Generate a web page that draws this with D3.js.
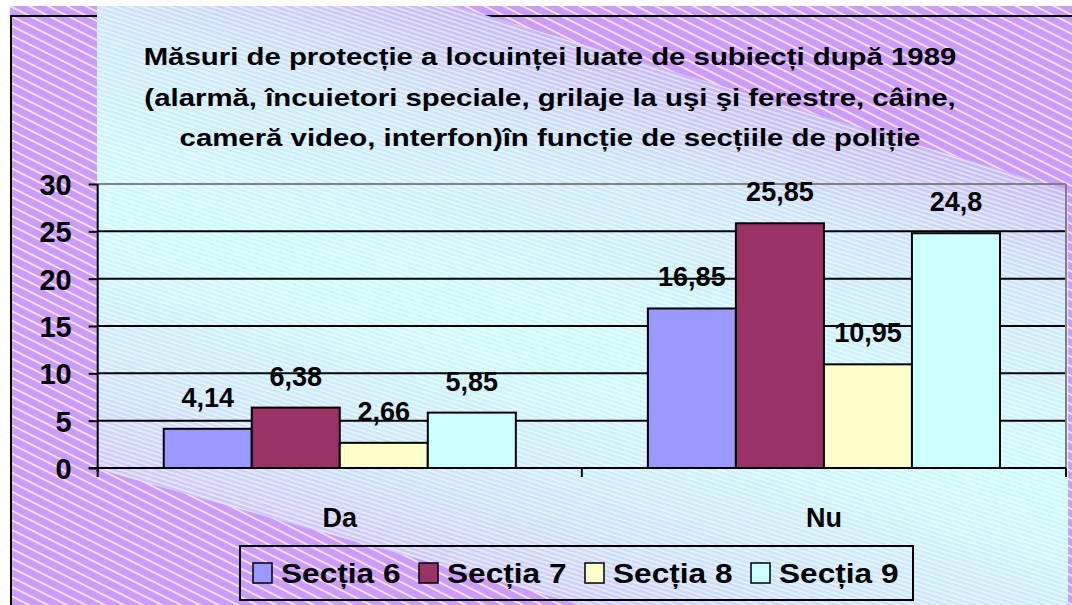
<!DOCTYPE html>
<html>
<head>
<meta charset="utf-8">
<script src="https://cdn.jsdelivr.net/npm/d3@7"></script>
<style>
  html, body { margin: 0; padding: 0; background: #ffffff; }
  svg { display: block; }
  text { font-family: "Liberation Sans", Arial, sans-serif; font-weight: bold; fill: #000; }
</style>
</head>
<body>
<svg id="chart" width="1072" height="605"></svg>
<script>
// ---- Data ----
const categories = ["Da", "Nu"];
const seriesNames = ["Secția 6", "Secția 7", "Secția 8", "Secția 9"];
const seriesColors = ["#9999ff", "#993366", "#ffffcc", "#ccffff"];
const valuesDa = [4.14, 6.38, 2.66, 5.85];
const valuesNu = [16.85, 25.85, 10.95, 24.8];
const yTicks = [0, 5, 10, 15, 20, 25, 30];
const titleLines = [
  "Măsuri de protecție a locuinței luate de subiecți după 1989",
  "(alarmă, încuietori speciale, grilaje la uşi şi ferestre, câine,",
  "cameră video, interfon)în funcție de secțiile de poliție"
];

const svg = d3.select("#chart");
const W = 1072, H = 605;
const defs = svg.append("defs");

// hatch patterns
const pWide = defs.append("pattern").attr("id", "hatchWide")
  .attr("patternUnits", "userSpaceOnUse").attr("width", 40).attr("height", 8.5)
  .attr("patternTransform", "rotate(26.6)");
pWide.append("line").attr("x1", 0).attr("x2", 40).attr("y1", 1).attr("y2", 1)
  .attr("stroke", "#ffffff").attr("stroke-width", 1.3).attr("stroke-opacity", 0.95);

const pDense = defs.append("pattern").attr("id", "hatchDense")
  .attr("patternUnits", "userSpaceOnUse").attr("width", 40).attr("height", 4.3)
  .attr("patternTransform", "rotate(18)");
pDense.append("line").attr("x1", 0).attr("x2", 40).attr("y1", 1).attr("y2", 1)
  .attr("stroke", "#ffffff").attr("stroke-width", 1).attr("stroke-opacity", 0.85);

// band gradient
const bg = defs.append("linearGradient").attr("id", "bandGrad")
  .attr("gradientUnits", "userSpaceOnUse")
  .attr("x1", 463).attr("y1", 6).attr("x2", 310).attr("y2", 531);
bg.append("stop").attr("offset", 0).attr("stop-color", "#c8b8f8");
bg.append("stop").attr("offset", 0.2).attr("stop-color", "#cce6fd");
bg.append("stop").attr("offset", 0.55).attr("stop-color", "#ccfdff");
bg.append("stop").attr("offset", 0.85).attr("stop-color", "#cde4fd");
bg.append("stop").attr("offset", 1).attr("stop-color", "#cfc8fb");

// purple background
svg.append("rect").attr("x", 10).attr("y", 6).attr("width", W - 10).attr("height", H - 6)
  .attr("fill", "#cc9cfa");
svg.append("rect").attr("x", 10).attr("y", 6).attr("width", W - 10).attr("height", H - 6)
  .attr("fill", "url(#hatchWide)");

// outer border
svg.append("line").attr("x1", 11).attr("x2", 11).attr("y1", 15).attr("y2", H)
  .attr("stroke", "#000").attr("stroke-width", 2);
svg.append("line").attr("x1", 10).attr("x2", W).attr("y1", 16).attr("y2", 16)
  .attr("stroke", "#000").attr("stroke-width", 2);

// cyan band
const bandPts = [[97, 6], [455, 6], [1068, 190], [1068, H], [582, H], [97, 469]];
const bandPath = "M" + bandPts.map(p => p.join(",")).join("L") + "Z";
svg.append("path").attr("d", bandPath).attr("fill", "url(#bandGrad)");
svg.append("path").attr("d", bandPath).attr("fill", "url(#hatchDense)");

// ---- Scales ----
const plotL = 97.7, plotR = 1066, plotT = 184, plotB = 468;
const x0 = d3.scaleBand().domain(categories).range([plotL, plotR]).paddingInner(0).paddingOuter(0);
const x1 = d3.scaleBand().domain(seriesNames).range([0, x0.bandwidth()]).paddingInner(0).paddingOuter(0.75);
const y = d3.scaleLinear().domain([0, 30]).range([plotB, plotT]);

// gridlines
svg.append("g").selectAll("line").data(yTicks.filter(t => t > 0)).join("line")
  .attr("x1", plotL).attr("x2", plotR)
  .attr("y1", d => y(d)).attr("y2", d => y(d))
  .attr("stroke", d => d === 30 ? "#808080" : "#000")
  .attr("stroke-width", 2);
// right border of plot
svg.append("line").attr("x1", plotR).attr("x2", plotR).attr("y1", plotT).attr("y2", plotB)
  .attr("stroke", "#808080").attr("stroke-width", 2);

// bars
const data = categories.map((c, i) => ({ cat: c, vals: i === 0 ? valuesDa : valuesNu }));
const groups = svg.append("g").selectAll("g").data(data).join("g")
  .attr("transform", d => `translate(${x0(d.cat)},0)`);
groups.selectAll("rect").data(d => d.vals.map((v, j) => ({ v, s: seriesNames[j], c: seriesColors[j] })))
  .join("rect")
  .attr("x", d => x1(d.s)).attr("width", x1.bandwidth())
  .attr("y", d => y(d.v)).attr("height", d => plotB - y(d.v))
  .attr("fill", d => d.c).attr("stroke", "#000").attr("stroke-width", 2);
groups.selectAll("text").data(d => d.vals.map((v, j) => ({ v, s: seriesNames[j] })))
  .join("text")
  .attr("x", d => x1(d.s) + x1.bandwidth() / 2)
  .attr("y", d => y(d.v) - 22)
  .attr("text-anchor", "middle").attr("font-size", 27)
  .text(d => String(d.v).replace(".", ","));

// y axis
const yAxis = svg.append("g").attr("transform", `translate(${plotL},0)`)
  .call(d3.axisLeft(y).tickValues(yTicks).tickSize(9).tickPadding(17).tickFormat(d3.format("d")));
yAxis.select(".domain").attr("stroke", "#000").attr("stroke-width", 2)
  .attr("d", `M0,${plotT}V${plotB + 4}`);
yAxis.selectAll(".tick line").attr("stroke", "#000").attr("stroke-width", 2);
yAxis.selectAll(".tick text").attr("font-size", 29).attr("font-family", null).attr("fill", "#000")
  .attr("dy", "0.36em");

// x axis
const xAxis = svg.append("g").attr("transform", `translate(0,${plotB})`)
  .call(d3.axisBottom(x0).tickSize(0).tickPadding(40));
xAxis.select(".domain").attr("stroke", "#000").attr("stroke-width", 2)
  .attr("d", `M${plotL - 9},0H${plotR}`);
xAxis.selectAll(".tick text").attr("font-size", 27).attr("font-family", null).attr("fill", "#000");
// category boundary ticks
const bounds = [plotL, x0("Nu"), plotR];
xAxis.append("g").selectAll("line").data(bounds).join("line")
  .attr("x1", d => d).attr("x2", d => d).attr("y1", 0).attr("y2", 9)
  .attr("stroke", "#000").attr("stroke-width", 2);

// title (horizontally stretched like the reference)
svg.append("g").selectAll("text").data(titleLines).join("text")
  .attr("transform", (d, i) => `translate(550,${65 + i * 40.5}) scale(1.25,1)`)
  .attr("x", 0).attr("y", 0)
  .attr("text-anchor", "middle").attr("font-size", 23.5)
  .text(d => d);

// legend
const leg = svg.append("g");
leg.append("rect").attr("x", 240).attr("y", 546).attr("width", 673).attr("height", 54)
  .attr("fill", "none").attr("stroke", "#000").attr("stroke-width", 2);
const legX = d3.scalePoint().domain(seriesNames).range([253, 751]);
const li = leg.selectAll("g.item").data(seriesNames.map((s, j) => ({ s, c: seriesColors[j] })))
  .join("g").attr("class", "item")
  .attr("transform", d => `translate(${legX(d.s)},563)`);
li.append("rect").attr("width", 19).attr("height", 20)
  .attr("fill", d => d.c).attr("stroke", "#000").attr("stroke-width", 1.5);
li.append("text").attr("transform", "translate(28,20) scale(1.13,1)").attr("font-size", 28).text(d => d.s);
</script>
</body>
</html>
